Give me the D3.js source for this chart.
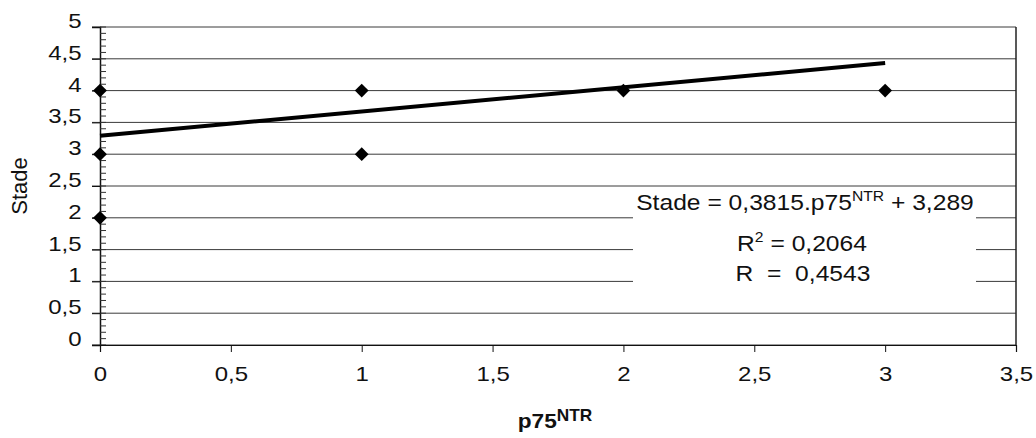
<!DOCTYPE html>
<html><head><meta charset="utf-8">
<script src="https://cdn.jsdelivr.net/npm/d3@7"></script>
<style>body{margin:0;background:#fff}text{font-family:"Liberation Sans",Arial,sans-serif;white-space:pre}</style>
</head><body><svg id="c" width="1036" height="438"></svg>
<script>
const pointsX = [0, 0, 0, 1, 1, 2, 3];
const pointsY = [4, 3, 2, 4, 3, 4, 4];
const slope = 0.3815, intercept = 3.289;
const trendX = [0, 3];
const yTicks = [0, 0.5, 1, 1.5, 2, 2.5, 3, 3.5, 4, 4.5, 5];
const xTicks = [0, 0.5, 1, 1.5, 2, 2.5, 3, 3.5];
const yMinor = d3.range(0, 51).map(i => i / 10);

const svg = d3.select("#c");
const L = 100, R = 1016, T = 27, B = 345;
const x = d3.scaleLinear().domain([0, 3.5]).range([L, R]);
const y = d3.scaleLinear().domain([0, 5]).range([B, T]);
const fmt = d => String(d).replace(".", ",");
const SX = 1.2;

// gridlines
svg.append("g").selectAll("line").data(yTicks).join("line")
  .attr("x1", L - 8).attr("x2", R).attr("y1", d => y(d)).attr("y2", d => y(d))
  .attr("stroke", "#3a3a3a").attr("stroke-width", 1);
// right border
svg.append("line").attr("x1", R).attr("x2", R).attr("y1", T).attr("y2", B)
  .attr("stroke", "#222").attr("stroke-width", 1.5);

// equation box
svg.append("rect").attr("x", 633).attr("y", 192).attr("width", 343).attr("height", 108).attr("fill", "#fff");

// y axis
const yAxis = d3.axisLeft(y).tickValues(yTicks).tickSize(8).tickFormat(fmt);
const gy = svg.append("g").attr("transform", `translate(${L},0)`).call(yAxis);
gy.select(".domain").attr("stroke", "#111").attr("stroke-width", 1.5);
gy.selectAll(".tick line").attr("stroke", "#111");
gy.selectAll(".tick text").attr("font-size", 20).attr("fill", "#111")
  .attr("x", -18.5 / SX).attr("y", 0.5).attr("dy", 0).attr("transform", `scale(${SX},1)`);
// minor ticks
svg.append("g").selectAll("line").data(yMinor).join("line")
  .attr("x1", L).attr("x2", L + 6).attr("y1", d => y(d)).attr("y2", d => y(d))
  .attr("stroke", "#333").attr("stroke-width", 1);

// x axis
const xAxis = d3.axisBottom(x).tickValues(xTicks).tickSize(7).tickFormat(fmt);
const gx = svg.append("g").attr("transform", `translate(0,${B})`).call(xAxis);
gx.select(".domain").attr("stroke", "#111").attr("stroke-width", 1.2);
gx.selectAll(".tick line").attr("stroke", "#111");
gx.selectAll(".tick text").attr("font-size", 20).attr("fill", "#111")
  .attr("y", 36).attr("dy", 0).attr("transform", `scale(${SX},1)`);

// trend line
svg.append("line")
  .attr("x1", x(trendX[0])).attr("y1", y(slope * trendX[0] + intercept))
  .attr("x2", x(trendX[1])).attr("y2", y(slope * trendX[1] + intercept))
  .attr("stroke", "#000").attr("stroke-width", 4);

// points
const sym = d3.symbol().type(d3.symbolSquare).size(95);
svg.append("g").selectAll("path").data(pointsX.map((d, i) => [d, pointsY[i]])).join("path")
  .attr("d", sym).attr("transform", d => `translate(${x(d[0])},${y(d[1])}) rotate(45)`)
  .attr("fill", "#000");

// equation text
const ESX = 1.12;
function eqText(cx, by) {
  return svg.append("text").attr("transform", `translate(${cx},${by}) scale(${ESX},1)`)
    .attr("text-anchor", "middle").attr("font-size", 22).attr("fill", "#111");
}
const e1 = eqText(805, 210);
e1.append("tspan").text("Stade = 0,3815.p75");
e1.append("tspan").attr("font-size", 14).attr("dy", -9).text("NTR");
e1.append("tspan").attr("dy", 9).text(" + 3,289");
const e2 = eqText(802, 251);
e2.append("tspan").text("R");
e2.append("tspan").attr("font-size", 14).attr("dy", -9).text("2");
e2.append("tspan").attr("dy", 9).text(" = 0,2064");
eqText(803, 281).text("R  =  0,4543");

// axis titles
svg.append("text").attr("transform", "translate(27,186) rotate(-90)").attr("text-anchor", "middle")
  .attr("font-size", 22).attr("fill", "#111").text("Stade");
const xt = svg.append("text").attr("transform", "translate(555,428) scale(1.08,1)").attr("text-anchor", "middle")
  .attr("font-size", 21).attr("font-weight", "bold").attr("fill", "#111");
xt.append("tspan").text("p75");
xt.append("tspan").attr("font-size", 16).attr("dy", -7).text("NTR");
</script></body></html>
